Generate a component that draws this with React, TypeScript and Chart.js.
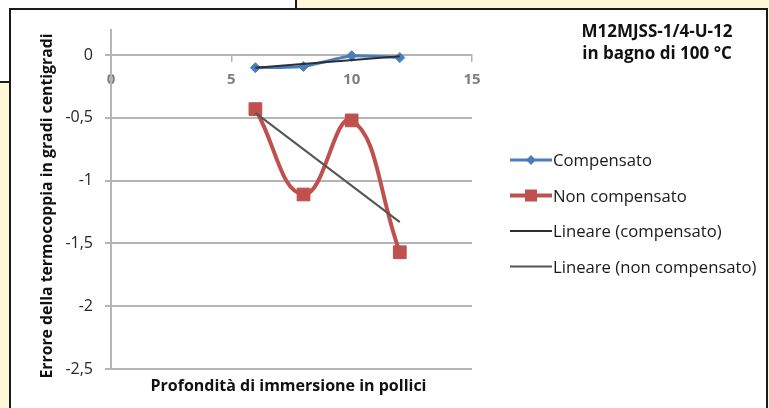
import { useEffect, useRef } from "react";
import { Chart, registerables } from "chart.js";
Chart.register(...registerables);

const depthX = [6, 8, 10, 12];
const compensato = [-0.1, -0.09, -0.005, -0.02];
const nonCompensato = [-0.43, -1.11, -0.52, -1.57];
const trendX = [6, 12];
const trendCompensato = [-0.1, -0.01];
const trendNonCompensato = [-0.46, -1.33];
const yTickValues = [-2.5, -2, -1.5, -1, -0.5, 0];
const yTickLabels = ["-2,5", "-2", "-1,5", "-1", "-0,5", "0"];
const xTickValues = [0, 5, 10, 15];
const seriesNames = ["Compensato", "Non compensato", "Lineare (compensato)", "Lineare (non compensato)"];
const titleLines = ["M12MJSS-1/4-U-12", "in bagno di 100 °C"];
const xTitle = "Profondità di immersione in pollici";
const yTitle = "Errore della termocoppia in gradi centigradi";

const BLUE = "#4a7ebb";
const RED = "#c0504d";
const TREND1 = "#2b2f38";
const TREND2 = "#555555";
const GRID = "#b5b5b5";
const FONT = "'Open Sans', sans-serif";

const pts = (xs: number[], ys: number[]) => xs.map((x, i) => ({ x, y: ys[i] }));

const legendItems = [
  { name: seriesNames[0], color: BLUE, width: 3, marker: "diamond" },
  { name: seriesNames[1], color: RED, width: 4, marker: "square" },
  { name: seriesNames[2], color: TREND1, width: 2, marker: "" },
  { name: seriesNames[3], color: TREND2, width: 2, marker: "" },
];

const textPlugin = {
  id: "texts",
  afterDraw(chart: any) {
    const ctx = chart.ctx as CanvasRenderingContext2D;
    ctx.save();
    ctx.fillStyle = "#111";
    ctx.textAlign = "center";
    ctx.textBaseline = "alphabetic";
    ctx.font = `bold 17px ${FONT}`;
    ctx.fillText(titleLines[0], 657, 36.5);
    ctx.fillText(titleLines[1], 657, 58.5);
    ctx.font = `bold 16px ${FONT}`;
    ctx.fillText(xTitle, 288.5, 390.5);
    ctx.font = `bold 15.8px ${FONT}`;
    ctx.save();
    ctx.translate(52, 206);
    ctx.rotate(-Math.PI / 2);
    ctx.fillText(yTitle, 0, 0);
    ctx.restore();

    // legend
    ctx.textAlign = "left";
    ctx.font = `16.7px ${FONT}`;
    legendItems.forEach((it, i) => {
      const cy = 160 + i * 35.5;
      ctx.strokeStyle = it.color;
      ctx.lineWidth = it.width;
      ctx.beginPath();
      ctx.moveTo(510, cy);
      ctx.lineTo(552, cy);
      ctx.stroke();
      ctx.fillStyle = it.color;
      if (it.marker === "diamond") {
        ctx.beginPath();
        ctx.moveTo(531, cy - 5);
        ctx.lineTo(536, cy);
        ctx.lineTo(531, cy + 5);
        ctx.lineTo(526, cy);
        ctx.closePath();
        ctx.fill();
      } else if (it.marker === "square") {
        ctx.fillRect(525, cy - 6, 12, 12);
      }
      ctx.fillStyle = "#1a1a1a";
      ctx.fillText(it.name, 553, cy + 6);
    });
    ctx.restore();
  },
};

export default function App() {
  const ref = useRef<HTMLCanvasElement | null>(null);
  useEffect(() => {
    if (!ref.current) return;
    const chart = new Chart(ref.current, {
      type: "scatter",
      data: {
        datasets: [
          {
            label: seriesNames[2],
            data: pts(trendX, trendCompensato),
            showLine: true,
            borderColor: TREND1,
            borderWidth: 2,
            pointRadius: 0,
            order: 0,
          },
          {
            label: seriesNames[3],
            data: pts(trendX, trendNonCompensato),
            showLine: true,
            borderColor: TREND2,
            borderWidth: 2,
            pointRadius: 0,
            order: 0,
          },
          {
            label: seriesNames[0],
            data: pts(depthX, compensato),
            showLine: true,
            borderColor: BLUE,
            backgroundColor: BLUE,
            borderWidth: 3,
            pointStyle: "rectRot",
            pointRadius: 5,
            pointBorderWidth: 1,
            tension: 0.15,
            order: 1,
          },
          {
            label: seriesNames[1],
            data: pts(depthX, nonCompensato),
            showLine: true,
            borderColor: RED,
            backgroundColor: RED,
            borderWidth: 4,
            pointStyle: "rect",
            pointRadius: 9,
            pointBorderWidth: 1,
            tension: 0.45,
            order: 2,
          },
        ],
      },
      options: {
        animation: false,
        responsive: false,
        maintainAspectRatio: false,
        layout: { padding: { left: 0, top: 30, right: 297, bottom: 39 } },
        plugins: { legend: { display: false }, tooltip: { enabled: false } },
        scales: {
          x: {
            type: "linear",
            position: { y: 0 } as any,
            min: 0,
            max: 15,
            afterBuildTicks: (s: any) => {
              s.ticks = xTickValues.map((v) => ({ value: v }));
            },
            grid: { drawOnChartArea: false, drawTicks: true, tickLength: 6, color: GRID, lineWidth: 1.5 },
            border: { display: true, color: GRID, width: 2 },
            ticks: {
              font: { family: FONT, size: 15, weight: "bold" },
              color: "#808080",
              padding: 10,
              maxRotation: 0,
            },
          },
          y: {
            type: "linear",
            min: -2.5,
            max: 0.2,
            afterBuildTicks: (s: any) => {
              s.ticks = yTickValues.map((v) => ({ value: v }));
            },
            afterFit: (s: any) => {
              s.width = 111;
            },
            grid: { color: GRID, lineWidth: 2, tickLength: 6 },
            border: { display: true, color: GRID, width: 2 },
            ticks: {
              callback: (v: any) => {
                const i = yTickValues.indexOf(Number(v));
                return i >= 0 ? yTickLabels[i] : "";
              },
              font: { family: FONT, size: 16 },
              color: "#262626",
              padding: 12,
            },
          },
        },
      },
      plugins: [textPlugin],
    });
    return () => chart.destroy();
  }, []);

  return (
    <div style={{ position: "fixed", left: 0, top: 0, width: 769, height: 408, background: "#fdf8d8", overflow: "hidden" }}>
      <div
        style={{
          position: "absolute",
          left: 0,
          top: 0,
          width: 297,
          height: 83,
          background: "#ffffff",
          borderRight: "2px solid #1e1e1e",
          borderBottom: "2px solid #1e1e1e",
          boxSizing: "border-box",
        }}
      />
      <div
        style={{
          position: "absolute",
          left: 9,
          top: 8,
          width: 759,
          height: 420,
          background: "#ffffff",
          border: "2px solid #1a1a1a",
          boxSizing: "border-box",
        }}
      />
      <canvas ref={ref} width={769} height={408} style={{ position: "absolute", left: 0, top: 0, width: 769, height: 408 }} />
    </div>
  );
}
